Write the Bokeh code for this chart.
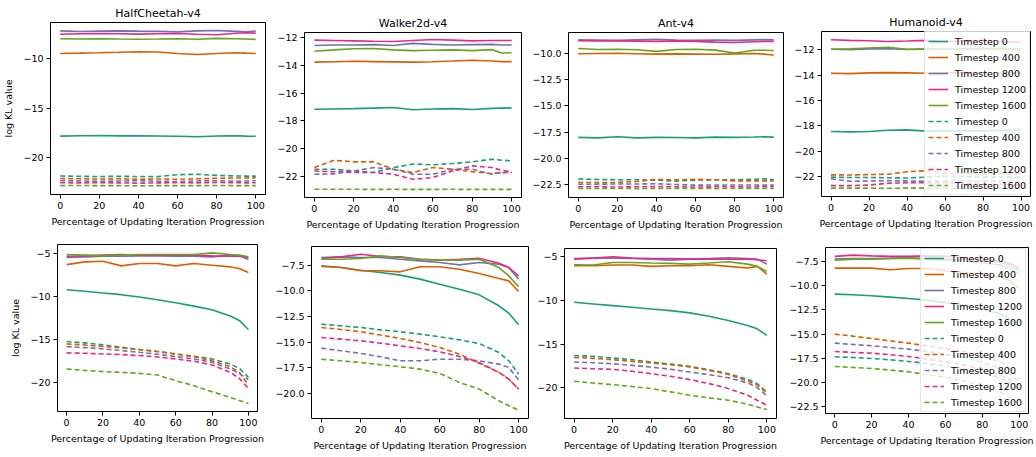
from bokeh.plotting import figure
from bokeh.layouts import column, row
from bokeh.models import Range1d, FixedTicker, Legend, LegendItem, LinearAxis
from bokeh.embed import file_html
from bokeh.resources import INLINE

# ---------------- data ----------------
x_pct = [0, 10, 20, 30, 40, 50, 60, 70, 80, 90, 95, 100]
x_ticks = [0, 20, 40, 60, 80, 100]
timesteps = ["Timestep 0", "Timestep 400", "Timestep 800", "Timestep 1200", "Timestep 1600"]
colors = ["#1b9e77", "#d95f02", "#7570b3", "#e7298a", "#66a61e"]
titles = ["HalfCheetah-v4", "Walker2d-v4", "Ant-v4", "Humanoid-v4"]
x_label = "Percentage of Updating Iteration Progression"
y_label = "log KL value"

# HalfCheetah (top row)
hc1_s0 = [-17.86, -17.82, -17.80, -17.84, -17.83, -17.85, -17.88, -17.93, -17.85, -17.82, -17.86, -17.88]
hc1_s400 = [-9.45, -9.42, -9.38, -9.33, -9.27, -9.30, -9.45, -9.55, -9.45, -9.38, -9.42, -9.45]
hc1_s800 = [-7.15, -7.22, -7.18, -7.15, -7.18, -7.20, -7.25, -7.15, -7.12, -7.20, -7.25, -7.18]
hc1_s1200 = [-7.50, -7.45, -7.42, -7.45, -7.48, -7.45, -7.42, -7.50, -7.55, -7.40, -7.35, -7.38]
hc1_s1600 = [-7.95, -7.98, -7.95, -7.98, -8.00, -7.98, -7.95, -8.00, -7.92, -7.95, -7.98, -8.02]
hc1_d0 = [-21.92, -21.95, -21.97, -21.95, -21.97, -21.98, -21.78, -21.75, -21.85, -21.92, -21.93, -21.93]
hc1_d400 = [-22.18, -22.20, -22.22, -22.20, -22.25, -22.22, -22.25, -22.20, -22.15, -22.12, -22.12, -22.10]
hc1_d800 = [-22.40, -22.42, -22.45, -22.43, -22.40, -22.45, -22.48, -22.42, -22.40, -22.45, -22.42, -22.40]
hc1_d1200 = [-22.60, -22.62, -22.60, -22.62, -22.65, -22.62, -22.60, -22.62, -22.58, -22.60, -22.62, -22.60]
hc1_d1600 = [-22.90, -22.88, -22.90, -22.90, -22.92, -22.90, -22.90, -22.90, -22.88, -22.90, -22.90, -22.90]

# Walker2d (top row)
wk1_s0 = [-17.16, -17.14, -17.12, -17.08, -17.04, -17.20, -17.14, -17.12, -17.18, -17.10, -17.08, -17.06]
wk1_s400 = [-13.78, -13.75, -13.72, -13.74, -13.76, -13.78, -13.75, -13.70, -13.64, -13.70, -13.74, -13.74]
wk1_s800 = [-12.58, -12.55, -12.55, -12.52, -12.58, -12.43, -12.50, -12.55, -12.52, -12.50, -12.55, -12.55]
wk1_s1200 = [-12.20, -12.22, -12.25, -12.28, -12.30, -12.22, -12.15, -12.20, -12.25, -12.22, -12.22, -12.22]
wk1_s1600 = [-13.00, -12.90, -12.82, -12.80, -12.90, -12.95, -12.92, -12.90, -12.95, -12.88, -13.12, -13.10]
wk1_d0 = [-21.47, -21.47, -21.60, -21.70, -21.35, -21.10, -21.15, -21.06, -20.94, -20.75, -20.82, -20.87]
wk1_d400 = [-21.35, -20.82, -20.94, -20.94, -21.47, -21.71, -21.35, -21.47, -21.64, -21.78, -21.72, -21.71]
wk1_d800 = [-21.83, -21.80, -21.60, -21.35, -21.47, -21.83, -21.83, -21.47, -21.47, -21.83, -21.70, -21.64]
wk1_d1200 = [-21.60, -21.65, -21.70, -21.70, -21.83, -22.19, -22.07, -21.60, -21.23, -21.35, -21.55, -21.64]
wk1_d1600 = [-22.91, -22.91, -22.91, -22.92, -22.91, -22.92, -22.92, -22.91, -22.92, -22.92, -22.92, -22.92]

# Ant (top row)
an1_s0 = [-18.00, -18.05, -17.95, -18.05, -18.00, -18.02, -18.05, -17.98, -18.00, -17.97, -17.95, -17.98]
an1_s400 = [-10.02, -10.00, -9.98, -10.02, -10.06, -10.04, -10.06, -10.08, -10.04, -10.00, -10.06, -10.14]
an1_s800 = [-8.70, -8.72, -8.75, -8.70, -8.65, -8.72, -8.75, -8.72, -8.75, -8.70, -8.68, -8.70]
an1_s1200 = [-8.78, -8.80, -8.80, -8.82, -8.85, -8.80, -8.85, -8.92, -8.95, -8.88, -8.85, -8.85]
an1_s1600 = [-9.52, -9.62, -9.60, -9.65, -9.80, -9.62, -9.60, -9.68, -9.95, -9.70, -9.70, -9.72]
an1_d0 = [-21.98, -22.02, -22.05, -22.05, -22.08, -22.18, -22.08, -22.05, -22.06, -22.00, -21.95, -22.05]
an1_d400 = [-22.30, -22.32, -22.30, -22.22, -22.02, -22.06, -22.00, -22.05, -22.15, -22.15, -22.15, -22.15]
an1_d800 = [-22.47, -22.47, -22.45, -22.45, -22.43, -22.50, -22.56, -22.55, -22.55, -22.55, -22.56, -22.56]
an1_d1200 = [-22.72, -22.72, -22.74, -22.72, -22.70, -22.72, -22.74, -22.72, -22.72, -22.74, -22.72, -22.72]
an1_d1600 = [-22.88, -22.88, -22.88, -22.89, -22.88, -22.88, -22.88, -22.89, -22.88, -22.88, -22.88, -22.88]

# Humanoid (top row)
hu1_s0 = [-18.45, -18.48, -18.45, -18.35, -18.32, -18.42, -18.40, -18.38, -18.40, -18.35, -18.35, -18.32]
hu1_s400 = [-13.85, -13.88, -13.82, -13.80, -13.82, -13.85, -13.82, -13.80, -13.82, -13.85, -13.82, -13.82]
hu1_s800 = [-11.95, -11.98, -11.92, -11.90, -11.97, -11.95, -11.95, -11.92, -11.90, -11.95, -11.95, -11.97]
hu1_s1200 = [-11.20, -11.25, -11.28, -11.34, -11.30, -11.25, -11.35, -11.30, -11.25, -11.35, -11.38, -11.39]
hu1_s1600 = [-11.95, -11.92, -11.85, -11.80, -11.95, -11.92, -11.95, -11.92, -11.88, -11.92, -11.95, -11.95]
hu1_d0 = [-22.05, -22.08, -22.08, -22.10, -22.12, -22.05, -21.98, -22.00, -22.05, -22.05, -22.05, -22.05]
hu1_d400 = [-21.87, -21.88, -21.85, -21.82, -21.62, -21.55, -21.75, -21.80, -21.82, -21.78, -21.80, -21.80]
hu1_d800 = [-22.18, -22.38, -22.36, -22.33, -22.35, -22.38, -22.35, -22.35, -22.38, -22.36, -22.38, -22.40]
hu1_d1200 = [-22.72, -22.72, -22.68, -22.53, -22.50, -22.50, -22.50, -22.55, -22.60, -22.62, -22.65, -22.65]
hu1_d1600 = [-22.92, -22.92, -22.92, -22.93, -22.92, -22.92, -22.92, -22.93, -22.92, -22.92, -22.92, -22.92]

# HalfCheetah (bottom row)
hc2_s0 = [-9.21, -9.40, -9.60, -9.79, -10.06, -10.38, -10.73, -11.12, -11.54, -12.28, -12.79, -13.84]
hc2_s400 = [-6.29, -5.97, -5.90, -6.44, -6.17, -6.17, -6.44, -6.17, -6.36, -6.56, -6.75, -7.22]
hc2_s800 = [-5.47, -5.39, -5.31, -5.31, -5.27, -5.27, -5.31, -5.31, -5.39, -5.19, -5.27, -5.70]
hc2_s1200 = [-5.31, -5.27, -5.19, -5.12, -5.19, -5.19, -5.19, -5.19, -5.27, -5.31, -5.31, -5.47]
hc2_s1600 = [-5.12, -5.19, -5.27, -5.19, -5.12, -5.12, -5.12, -5.12, -4.92, -5.12, -5.19, -5.39]
hc2_d0 = [-15.25, -15.40, -15.63, -15.91, -16.18, -16.41, -16.69, -16.96, -17.27, -17.86, -18.36, -19.41]
hc2_d400 = [-15.52, -15.64, -15.83, -15.99, -16.18, -16.41, -16.69, -17.00, -17.47, -18.17, -18.83, -20.31]
hc2_d800 = [-15.83, -15.95, -16.10, -16.30, -16.49, -16.73, -17.00, -17.27, -17.66, -18.44, -18.95, -19.69]
hc2_d1200 = [-16.57, -16.61, -16.69, -16.76, -16.88, -17.04, -17.27, -17.54, -17.97, -18.83, -19.53, -20.70]
hc2_d1600 = [-18.44, -18.60, -18.75, -18.83, -18.95, -19.14, -19.80, -20.39, -21.09, -21.75, -22.10, -22.45]

# Walker2d (bottom row)
wk2_s0 = [-7.56, -7.73, -7.99, -8.21, -8.47, -8.86, -9.35, -9.84, -10.39, -11.46, -12.18, -13.31]
wk2_s400 = [-7.63, -7.73, -8.05, -8.05, -8.15, -7.66, -7.66, -7.89, -8.31, -8.80, -9.03, -10.06]
wk2_s800 = [-6.75, -6.69, -6.75, -6.75, -6.92, -7.08, -7.24, -7.47, -7.24, -7.40, -7.73, -8.86]
wk2_s1200 = [-6.85, -6.69, -6.43, -6.66, -6.69, -6.92, -7.01, -6.92, -6.82, -7.31, -7.73, -8.54]
wk2_s1600 = [-6.92, -6.92, -6.85, -6.59, -6.75, -6.92, -7.01, -7.01, -6.92, -7.73, -8.54, -9.61]
wk2_d0 = [-13.25, -13.41, -13.57, -13.80, -13.99, -14.22, -14.48, -14.77, -15.13, -16.01, -16.82, -18.12]
wk2_d400 = [-13.57, -13.77, -13.99, -14.31, -14.64, -15.03, -15.52, -16.17, -17.05, -17.95, -18.60, -19.58]
wk2_d800 = [-15.58, -15.84, -16.10, -16.43, -16.82, -16.82, -16.66, -16.66, -16.82, -17.14, -17.47, -18.67]
wk2_d1200 = [-14.55, -14.71, -14.87, -15.10, -15.36, -15.62, -15.94, -16.40, -16.98, -17.95, -18.60, -19.58]
wk2_d1600 = [-16.66, -16.82, -16.98, -17.21, -17.40, -17.63, -18.05, -18.93, -19.58, -20.71, -21.20, -21.62]

# Ant (bottom row)
an2_s0 = [-10.22, -10.41, -10.60, -10.79, -10.98, -11.17, -11.43, -11.81, -12.31, -12.88, -13.26, -14.02]
an2_s400 = [-6.03, -6.03, -5.95, -5.95, -6.10, -6.03, -6.03, -5.91, -6.10, -6.29, -6.10, -6.98]
an2_s800 = [-5.19, -5.15, -5.15, -5.19, -5.27, -5.38, -5.27, -5.19, -5.11, -5.19, -5.27, -5.84]
an2_s1200 = [-5.27, -5.15, -5.00, -5.15, -5.19, -5.19, -5.27, -5.27, -5.27, -5.27, -5.34, -5.46]
an2_s1600 = [-5.91, -5.95, -5.65, -5.65, -5.72, -5.76, -5.84, -5.72, -5.57, -5.84, -6.10, -6.67]
an2_d0 = [-16.31, -16.42, -16.61, -16.80, -17.07, -17.30, -17.56, -17.94, -18.40, -19.05, -19.54, -20.49]
an2_d400 = [-16.53, -16.65, -16.80, -16.99, -17.18, -17.37, -17.64, -18.02, -18.48, -19.24, -19.73, -20.61]
an2_d800 = [-17.07, -17.14, -17.26, -17.45, -17.64, -17.90, -18.21, -18.51, -18.86, -19.47, -20.00, -20.95]
an2_d1200 = [-17.75, -17.83, -17.90, -18.13, -18.40, -18.70, -19.08, -19.54, -20.11, -20.87, -21.45, -22.02]
an2_d1600 = [-19.27, -19.47, -19.66, -19.88, -20.11, -20.49, -20.87, -21.18, -21.44, -21.90, -22.21, -22.51]

# Humanoid (bottom row)
hu2_s0 = [-10.87, -10.94, -11.04, -11.18, -11.32, -11.49, -11.73, -12.01, -12.42, -12.94, -13.45, -14.24]
hu2_s400 = [-8.19, -8.19, -8.19, -8.36, -8.22, -8.22, -8.46, -8.64, -8.81, -9.15, -9.50, -10.29]
hu2_s800 = [-7.26, -7.19, -7.19, -7.16, -7.12, -7.19, -7.26, -7.33, -7.36, -7.60, -7.88, -8.46]
hu2_s1200 = [-6.98, -6.85, -6.92, -6.98, -6.98, -6.92, -6.98, -7.09, -7.26, -7.43, -7.67, -8.19]
hu2_s1600 = [-7.36, -7.26, -7.26, -7.22, -7.16, -7.26, -7.36, -7.47, -7.60, -7.88, -8.22, -8.81]
hu2_d0 = [-17.34, -17.41, -17.51, -17.65, -17.82, -18.03, -18.27, -18.55, -18.96, -19.58, -20.06, -20.68]
hu2_d400 = [-15.00, -15.21, -15.45, -15.69, -15.93, -16.21, -16.48, -16.82, -17.24, -17.92, -18.54, -19.64]
hu2_d800 = [-15.93, -16.07, -16.20, -16.38, -16.55, -16.79, -17.06, -17.41, -17.92, -18.61, -19.13, -19.99]
hu2_d1200 = [-16.79, -16.89, -16.96, -17.13, -17.30, -17.58, -17.85, -18.20, -18.61, -19.23, -19.71, -20.33]
hu2_d1600 = [-18.34, -18.44, -18.54, -18.71, -18.89, -19.16, -19.47, -19.85, -20.33, -21.02, -21.54, -22.05]

# y-axis ticks per panel
yt_hc1 = [-10, -15, -20]
yt_wk1 = [-12, -14, -16, -18, -20, -22]
yt_an1 = [-10.0, -12.5, -15.0, -17.5, -20.0, -22.5]
yt_hu1 = [-12, -14, -16, -18, -20, -22]
yt_hc2 = [-5, -10, -15, -20]
yt_wk2 = [-7.5, -10.0, -12.5, -15.0, -17.5, -20.0]
yt_an2 = [-5, -10, -15, -20]
yt_hu2 = [-7.5, -10.0, -12.5, -15.0, -17.5, -20.0, -22.5]

# ---------------- layout / style ----------------
FONT = "DejaVu Sans"


def fmt(v, decimals):
    s = f"{abs(v):.{decimals}f}"
    return ("\u2212" + s) if v < 0 else s


panels = [
    # row 1
    dict(title=titles[0], solid=[hc1_s0, hc1_s400, hc1_s800, hc1_s1200, hc1_s1600],
         dashed=[hc1_d0, hc1_d400, hc1_d800, hc1_d1200, hc1_d1600],
         yr=(-23.8, -6.3), yt=yt_hc1, dec=0, ylab=True,
         w=273, h=236, bl=50, br=8, bt=22, bb=42, legend=None),
    dict(title=titles[1], solid=[wk1_s0, wk1_s400, wk1_s800, wk1_s1200, wk1_s1600],
         dashed=[wk1_d0, wk1_d400, wk1_d800, wk1_d1200, wk1_d1600],
         yr=(-23.5, -11.65), yt=yt_wk1, dec=0, ylab=False,
         w=253, h=236, bl=31, br=5, bt=32, bb=39, legend=None),
    dict(title=titles[2], solid=[an1_s0, an1_s400, an1_s800, an1_s1200, an1_s1600],
         dashed=[an1_d0, an1_d400, an1_d800, an1_d1200, an1_d1600],
         yr=(-23.74, -8.0), yt=yt_an1, dec=1, ylab=False,
         w=261, h=236, bl=42, br=4, bt=32, bb=39, legend=None),
    dict(title=titles[3], solid=[hu1_s0, hu1_s400, hu1_s800, hu1_s1200, hu1_s1600],
         dashed=[hu1_d0, hu1_d400, hu1_d800, hu1_d1200, hu1_d1600],
         yr=(-23.58, -10.55), yt=yt_hu1, dec=0, ylab=False,
         w=249, h=236, bl=34, br=6, bt=31, bb=40, legend=(103, 1)),
    # row 2
    dict(title=None, solid=[hc2_s0, hc2_s400, hc2_s800, hc2_s1200, hc2_s1600],
         dashed=[hc2_d0, hc2_d400, hc2_d800, hc2_d1200, hc2_d1600],
         yr=(-23.39, -3.95), yt=yt_hc2, dec=0, ylab=True,
         w=268, h=221, bl=57, br=11, bt=8, bb=46, legend=None),
    dict(title=None, solid=[wk2_s0, wk2_s400, wk2_s800, wk2_s1200, wk2_s1600],
         dashed=[wk2_d0, wk2_d400, wk2_d800, wk2_d1200, wk2_d1600],
         yr=(-22.44, -5.68), yt=yt_wk2, dec=1, ylab=False,
         w=264, h=221, bl=43, br=4, bt=10, bb=39, legend=None),
    dict(title=None, solid=[an2_s0, an2_s400, an2_s800, an2_s1200, an2_s1600],
         dashed=[an2_d0, an2_d400, an2_d800, an2_d1200, an2_d1600],
         yr=(-23.54, -4.05), yt=yt_an2, dec=0, ylab=False,
         w=254, h=221, bl=32, br=10, bt=12, bb=39, legend=None),
    dict(title=None, solid=[hu2_s0, hu2_s400, hu2_s800, hu2_s1200, hu2_s1600],
         dashed=[hu2_d0, hu2_d400, hu2_d800, hu2_d1200, hu2_d1600],
         yr=(-23.19, -6.06), yt=yt_hu2, dec=1, ylab=False,
         w=250, h=221, bl=36, br=8, bt=11, bb=44, legend=(95, 1)),
]


def style_axis(ax):
    ax.axis_line_color = None
    ax.major_tick_in = 0
    ax.major_tick_out = 4
    ax.major_tick_line_color = "black"
    ax.minor_tick_line_color = None
    ax.major_label_text_font = FONT
    ax.major_label_text_font_size = "9.5px"
    ax.major_label_text_color = "black"
    ax.major_label_standoff = 3
    ax.axis_label_text_font = FONT
    ax.axis_label_text_font_size = "9.5px"
    ax.axis_label_text_font_style = "normal"
    ax.axis_label_text_color = "black"
    ax.axis_label_standoff = 4


def make_panel(cfg):
    p = figure(width=cfg["w"], height=cfg["h"],
               x_range=Range1d(-5, 105), y_range=Range1d(*cfg["yr"]),
               output_backend="svg", toolbar_location=None,
               min_border_left=cfg["bl"], min_border_right=cfg["br"],
               min_border_top=cfg["bt"], min_border_bottom=cfg["bb"])
    p.background_fill_color = "white"
    p.border_fill_color = "white"
    p.outline_line_color = "black"
    p.outline_line_width = 1
    p.xgrid.visible = False
    p.ygrid.visible = False

    style_axis(p.xaxis[0])
    style_axis(p.yaxis[0])

    p.xaxis.ticker = FixedTicker(ticks=x_ticks)
    p.xaxis.axis_label = x_label
    p.yaxis.ticker = FixedTicker(ticks=cfg["yt"])
    p.yaxis.major_label_overrides = {t: fmt(t, cfg["dec"]) for t in cfg["yt"]}
    if cfg["ylab"]:
        p.yaxis.axis_label = y_label
        p.yaxis.axis_label_standoff = 6

    if cfg["title"]:
        # panel title drawn as the label of a tick-less axis above the frame
        tax = LinearAxis(ticker=FixedTicker(ticks=[]), axis_label=cfg["title"])
        tax.axis_line_color = None
        tax.major_tick_out = 0
        tax.major_tick_in = 0
        tax.minor_tick_out = 0
        tax.minor_tick_in = 0
        tax.major_label_standoff = 0
        tax.major_label_text_font_size = "0px"
        tax.axis_label_standoff = 3
        tax.axis_label_text_font = FONT
        tax.axis_label_text_font_size = "11px"
        tax.axis_label_text_font_style = "normal"
        tax.axis_label_text_color = "black"
        p.add_layout(tax, "above")

    solid_r, dashed_r = [], []
    for ys, c in zip(cfg["solid"], colors):
        solid_r.append(p.line(x_pct, ys, line_color=c, line_width=1.6))
    for ys, c in zip(cfg["dashed"], colors):
        dashed_r.append(p.line(x_pct, ys, line_color=c, line_width=1.6, line_dash="5 3"))

    if cfg["legend"] is not None:
        items = [LegendItem(label=lab, renderers=[r]) for lab, r in zip(timesteps, solid_r)]
        items += [LegendItem(label=lab, renderers=[r]) for lab, r in zip(timesteps, dashed_r)]
        leg = Legend(items=items, location=cfg["legend"])
        leg.label_text_font = FONT
        leg.label_text_font_size = "9.5px"
        leg.label_text_color = "black"
        leg.label_height = 12
        leg.glyph_height = 12
        leg.glyph_width = 20
        leg.label_standoff = 7
        leg.spacing = 4
        leg.padding = 3
        leg.margin = 0
        leg.border_line_color = "#cccccc"
        leg.border_line_width = 1
        leg.background_fill_color = "white"
        leg.background_fill_alpha = 0.8
        p.add_layout(leg)
    return p


figs = [make_panel(c) for c in panels]
# each panel is wrapped in its own column so that the row does not align the plot frames
top = row(*[column(f, spacing=0) for f in figs[:4]], spacing=0)
bottom = row(*[column(f, spacing=0) for f in figs[4:]], spacing=0)
layout = column(top, bottom, spacing=0)

open("out.html", "w").write(file_html(layout, INLINE))
